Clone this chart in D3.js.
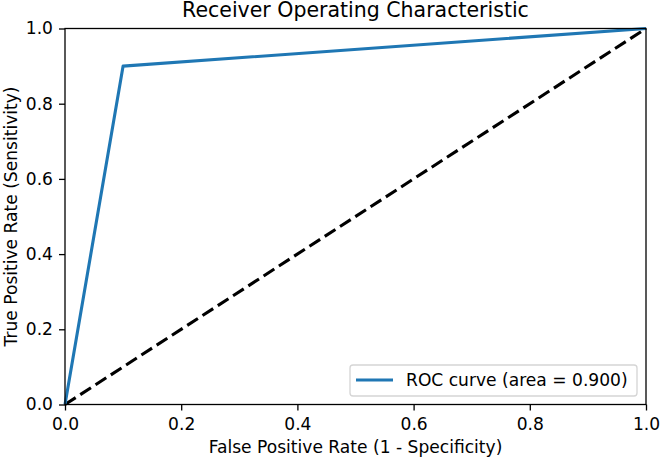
<!DOCTYPE html>
<html>
<head>
<meta charset="utf-8">
<script src="https://cdn.jsdelivr.net/npm/d3@7"></script>
<style>
  body { margin: 0; background: #fff; }
  text { font-family: "DejaVu Sans", sans-serif; fill: #000; }
</style>
</head>
<body>
<div id="chart"></div>
<script>
// ----- DATA -----
const fpr = [0, 0.1, 1];
const tpr = [0, 0.9, 1];
const chanceX = [0, 1];
const chanceY = [0, 1];
const ticks = [0, 0.2, 0.4, 0.6, 0.8, 1.0];
const rocLabel = "ROC curve (area = 0.900)";

const width = 661, height = 460;
const m = {left: 65, right: 15, top: 28.5, bottom: 55.5};
const fs = 17.1; // 10pt at this dpi

const svg = d3.select("#chart").append("svg")
    .attr("width", width)
    .attr("height", height);

const x = d3.scaleLinear().domain([0, 1]).range([m.left, width - m.right]);
const y = d3.scaleLinear().domain([0, 1]).range([height - m.bottom, m.top]);

const line = d3.line().x(d => x(d[0])).y(d => y(d[1]));

// chance line
svg.append("path")
    .datum(d3.zip(chanceX, chanceY))
    .attr("d", line)
    .attr("fill", "none")
    .attr("stroke", "#000")
    .attr("stroke-width", 3.1)
    .attr("stroke-dasharray", "12.7,5.5");

// ROC curve
svg.append("path")
    .datum(d3.zip(fpr, tpr))
    .attr("d", line)
    .attr("fill", "none")
    .attr("stroke", "#1f77b4")
    .attr("stroke-width", 3.1)
    .attr("stroke-linejoin", "round");

// axes
const xAxis = svg.append("g")
    .attr("transform", `translate(0,${y(0)})`)
    .call(d3.axisBottom(x).tickValues(ticks).tickFormat(d3.format(".1f")).tickSizeOuter(0).tickSize(6).tickPadding(6));
const yAxis = svg.append("g")
    .attr("transform", `translate(${x(0)},0)`)
    .call(d3.axisLeft(y).tickValues(ticks).tickFormat(d3.format(".1f")).tickSizeOuter(0).tickSize(6).tickPadding(6));

[xAxis, yAxis].forEach(a => {
    a.select(".domain").remove();
    a.selectAll("line").attr("stroke", "#000").attr("stroke-width", 1.3);
    a.selectAll("text").style("font-size", fs + "px").style("font-family", "DejaVu Sans");
});
xAxis.selectAll("text").attr("dy", null).attr("y", 0)
    .attr("transform", "translate(0,25)");

// frame
svg.append("rect")
    .attr("x", x(0)).attr("y", y(1))
    .attr("width", x(1) - x(0)).attr("height", y(0) - y(1))
    .attr("fill", "none")
    .attr("stroke", "#000")
    .attr("stroke-width", 1.3);

// title & labels
svg.append("text")
    .attr("x", (x(0) + x(1)) / 2).attr("y", 17)
    .attr("text-anchor", "middle")
    .style("font-size", "20.5px")
    .text("Receiver Operating Characteristic");

svg.append("text")
    .attr("x", (x(0) + x(1)) / 2).attr("y", 453)
    .attr("text-anchor", "middle")
    .style("font-size", fs + "px")
    .text("False Positive Rate (1 - Specificity)");

svg.append("text")
    .attr("transform", `translate(17,${(y(0) + y(1)) / 2}) rotate(-90)`)
    .attr("text-anchor", "middle")
    .style("font-size", fs + "px")
    .text("True Positive Rate (Sensitivity)");

// legend
const lg = svg.append("g");
lg.append("rect")
    .attr("x", 350).attr("y", 365)
    .attr("width", 287).attr("height", 31)
    .attr("rx", 3)
    .attr("fill", "#fff").attr("fill-opacity", 0.8)
    .attr("stroke", "#d5d5d5").attr("stroke-width", 1.3);
lg.append("line")
    .attr("x1", 356).attr("x2", 393)
    .attr("y1", 380).attr("y2", 380)
    .attr("stroke", "#1f77b4").attr("stroke-width", 3.1);
lg.append("text")
    .attr("x", 406).attr("y", 386)
    .style("font-size", fs + "px")
    .text(rocLabel);
</script>
</body>
</html>
